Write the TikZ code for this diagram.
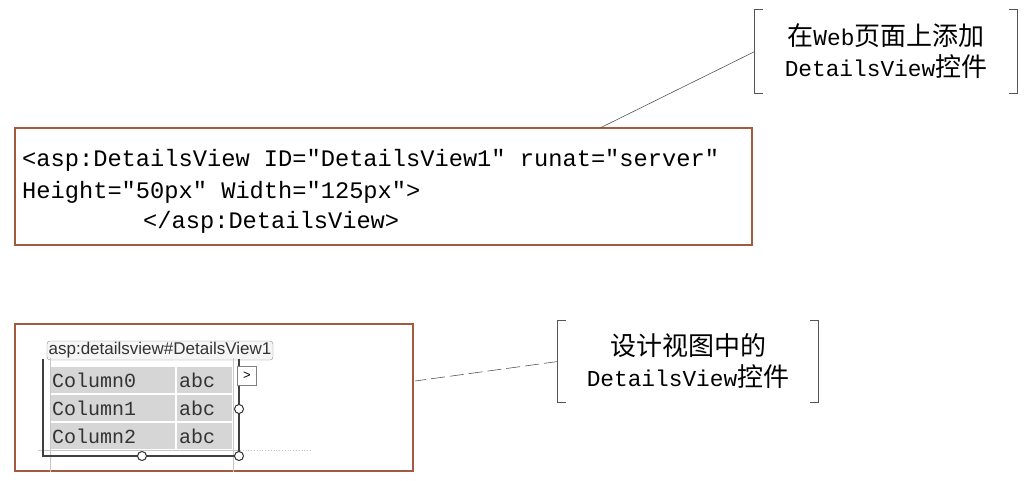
\documentclass[tikz,border=0pt]{standalone}
\usepackage{fontspec}
\setmainfont{Liberation Serif}
\setsansfont{Liberation Sans}
\setmonofont{Liberation Mono}
\newfontfamily\cjk{Noto Sans CJK SC}
\usetikzlibrary{positioning, calc}
\definecolor{frame}{HTML}{A45A3E}
\definecolor{cellgray}{HTML}{D6D6D6}
\definecolor{leadgray}{HTML}{555555}
\newcommand{\zh}[1]{{\cjk\fontsize{26pt}{31pt}\selectfont #1}}
\tikzset{
  % --- Rahmen / Notizen ---------------------------------------
  outbox/.style={draw=frame, line width=1.3pt, fill=none},
  note/.style={align=center, inner sep=0pt, text=black,
    font=\ttfamily\fontsize{22.8pt}{31pt}\selectfont},
  bracket/.style={draw=leadgray, line width=0.8pt},
  lead/.style={draw=leadgray, line width=0.6pt},
  codeline/.style={anchor=base west, inner sep=0pt,
    font=\ttfamily\fontsize{23.7pt}{31pt}\selectfont},
  % --- Entwurfsansicht -----------------------------------------
  cell/.style={fill=cellgray, draw=white, line width=1.5pt},
  cellt/.style={anchor=base west, inner sep=0pt,
    font=\ttfamily\fontsize{20pt}{24pt}\selectfont, text=black!80},
  tag/.style={draw=black!45, fill=black!4, rounded corners=3pt,
    minimum width=226pt, minimum height=19pt, inner sep=0pt,
    font=\sffamily\fontsize{17pt}{19pt}\selectfont, text=black!80},
  ctlframe/.style={draw=black!75, line width=1.3pt},
  guide/.style={draw=black!22, line width=0.8pt},
  handle/.style={draw=black!80, fill=white, line width=1pt},
  smarttag/.style={draw=black!50, fill=white, minimum size=19pt,
    inner sep=0pt, font=\sffamily\fontsize{13pt}{14pt}\selectfont}
}
\begin{document}
\begin{tikzpicture}[x=1pt, y=-1pt]
  \useasboundingbox (0,0) rectangle (1030,481);

  % --- Codeblock ----------------------------------------------
  \node[outbox, minimum width=737pt, minimum height=117pt] (codebox) at (383.5,186.5) {};
  \node[codeline] (codeA) at (22,167) {<asp:DetailsView ID="DetailsView1" runat="server"};
  \node[codeline] (codeB) at (22,198) {Height="50px" Width="125px">};
  \node[codeline] (codeC) at (143,229) {</asp:DetailsView>};

  % --- Notiz oben ---------------------------------------------
  \node[note, minimum width=262pt, minimum height=83pt] (addnote) at (886,51.5)
    {\zh{在}Web\zh{页面上添加}\\DetailsView\zh{控件}};
  \draw[bracket] ([xshift=8pt]addnote.north west) -- (addnote.north west)
    -- (addnote.south west) -- ([xshift=8pt]addnote.south west);
  \draw[bracket] ([xshift=-8pt]addnote.north east) -- (addnote.north east)
    -- (addnote.south east) -- ([xshift=-8pt]addnote.south east);
  \coordinate (codetop) at (600,128);
  \draw[lead] (addnote.west) -- (codetop);

  % --- Entwurfsansicht ----------------------------------------
  \node[outbox, minimum width=398pt, minimum height=147pt] (designbox) at (214,397.5) {};
  \node[tag] (ctltag) at (160,350.5) {asp:detailsview\#DetailsView1};
  \foreach \r/\name in {0/Column0, 1/Column1, 2/Column2} {
    \draw[cell] (50,{366+28*\r}) rectangle (176,{394+28*\r});
    \draw[cell] (176,{366+28*\r}) rectangle (233,{394+28*\r});
    \node[cellt] (col\r) at (52,{387+28*\r}) {\name};
    \node[cellt] (val\r) at (179,{387+28*\r}) {abc};
  }
  \draw[guide] (50,358) -- (50,472);
  \draw[guide] (233,358) -- (233,472);
  \draw[guide] (38,450) -- (240,450);
  \draw[guide, dotted] (240,450) -- (312,450);
  \draw[ctlframe] (43,359) -- (43,456) -- (239,456) -- (239,359);
  \node[smarttag] (tagbtn) at (247,376) {>};
  \foreach \p in {(142,456), (239,456), (239,409)}
    \draw[handle] \p circle (4.5);

  % --- Notiz unten --------------------------------------------
  \node[note, minimum width=260pt, minimum height=81pt] (designnote) at (688,361.5)
    {\zh{设计视图中的}\\DetailsView\zh{控件}};
  \draw[bracket] ([xshift=8pt]designnote.north west) -- (designnote.north west)
    -- (designnote.south west) -- ([xshift=8pt]designnote.south west);
  \draw[bracket] ([xshift=-8pt]designnote.north east) -- (designnote.north east)
    -- (designnote.south east) -- ([xshift=-8pt]designnote.south east);
  \coordinate (designpin) at (415,381);
  \draw[lead, dash pattern=on 14pt off 5pt] (designnote.west) -- (designpin);

\end{tikzpicture}
\end{document}
